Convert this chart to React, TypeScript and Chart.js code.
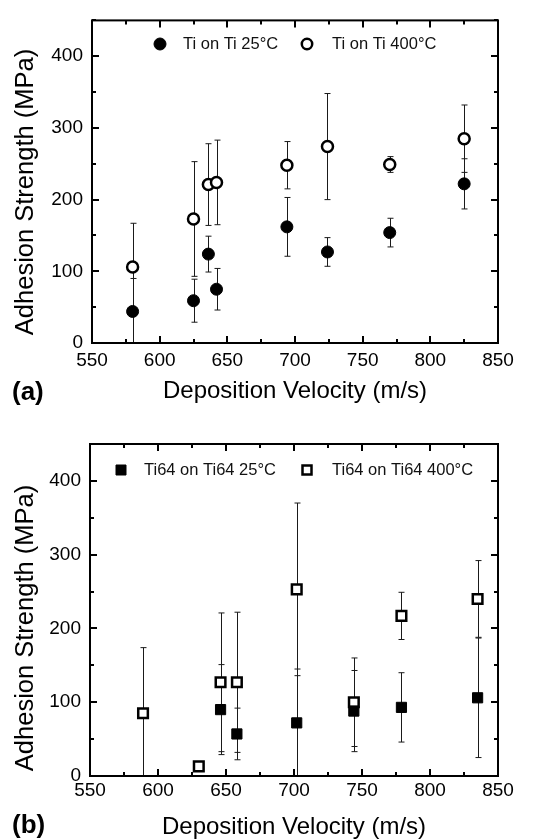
import React, { useEffect, useRef } from 'react';
import { Chart, registerables } from 'chart.js';

Chart.register(...registerables);

// ---------- data ----------
const xTickValues = [550, 600, 650, 700, 750, 800, 850];
const yTickValues = [0, 100, 200, 300, 400];

// Panel (a): Ti on Ti
const tiVelocity25 = [580, 625, 636, 642, 694, 724, 770, 825];
const ti25 = [44, 59, 124, 75, 162, 127, 154, 222];
const ti25Err = [46, 30, 25, 29, 41, 20, 20, 35];

const tiVelocity400 = [580, 625, 636, 642, 694, 724, 770, 825];
const ti400 = [106, 173, 221, 224, 248, 274, 249, 285];
const ti400Err = [61, 80, 57, 59, 33, 74, 11, 47];

// Panel (b): Ti64 on Ti64
const ti64Velocity25 = [646, 658, 702, 744, 779, 835];
const ti64_25 = [90, 57, 72, 88, 93, 106];
const ti64_25Err = [61, 35, 73, 55, 47, 81];

const ti64Velocity400 = [589, 630, 646, 658, 702, 744, 779, 835];
const ti64_400 = [85, 13, 127, 127, 253, 100, 217, 240];
const ti64_400Err = [89, 6, 94, 95, 117, 60, 32, 52];

const labelsA = ['Ti on Ti 25°C', 'Ti on Ti 400°C'];
const labelsB = ['Ti64 on Ti64 25°C', 'Ti64 on Ti64 400°C'];

const FONT = '"Liberation Sans", Arial, Helvetica, sans-serif';

// ---------- plugins ----------
const errorBarPlugin = {
  id: 'errorBars',
  beforeDatasetsDraw(chart: any, _args: any, opts: any) {
    const { ctx, scales } = chart;
    const xs = scales.x, ys = scales.y;
    ctx.save();
    ctx.strokeStyle = '#1a1a1a';
    ctx.lineWidth = 1;
    (opts.errors || []).forEach((errs: number[], di: number) => {
      const ds = chart.data.datasets[di];
      ds.data.forEach((p: any, i: number) => {
        const e = errs[i];
        if (!e) return;
        const px = Math.round(xs.getPixelForValue(p.x)) + 0.5;
        const yTop = ys.getPixelForValue(p.y + e);
        const yBot = Math.min(ys.getPixelForValue(Math.max(p.y - e, 0)), ys.bottom);
        ctx.beginPath();
        ctx.moveTo(px, yTop);
        ctx.lineTo(px, yBot);
        ctx.moveTo(px - 3, yTop);
        ctx.lineTo(px + 3, yTop);
        if (p.y - e > 0) {
          ctx.moveTo(px - 3, yBot);
          ctx.lineTo(px + 3, yBot);
        }
        ctx.stroke();
      });
    });
    ctx.restore();
  },
};

const frameTicksPlugin = {
  id: 'frameTicks',
  afterDraw(chart: any, _args: any, opts: any) {
    const { ctx, chartArea, scales } = chart;
    const { left, right, top, bottom } = chartArea;
    const xs = scales.x, ys = scales.y;
    ctx.save();
    ctx.strokeStyle = '#000';
    ctx.lineWidth = 2;
    ctx.beginPath();
    for (let v = xs.min; v <= xs.max; v += opts.xMinor) {
      const px = Math.round(xs.getPixelForValue(v));
      const len = (v - xs.min) % opts.xMajor === 0 ? 7 : 4;
      ctx.moveTo(px, bottom);
      ctx.lineTo(px, bottom - len);
      ctx.moveTo(px, top);
      ctx.lineTo(px, top + len);
    }
    for (let v = ys.min; v <= ys.max; v += opts.yMinor) {
      const py = Math.round(ys.getPixelForValue(v));
      const len = v % opts.yMajor === 0 ? 7 : 4;
      ctx.moveTo(left, py);
      ctx.lineTo(left + len, py);
      ctx.moveTo(right, py);
      ctx.lineTo(right - len, py);
    }
    ctx.stroke();
    ctx.lineWidth = 2;
    ctx.strokeRect(left, top, right - left, bottom - top);
    ctx.restore();
  },
};

function drawMarker(ctx: any, x: number, y: number, shape: string, filled: boolean, r: number) {
  ctx.save();
  ctx.fillStyle = filled ? '#000' : '#fff';
  ctx.strokeStyle = '#000';
  ctx.lineWidth = filled ? 1 : 2.5;
  ctx.beginPath();
  if (shape === 'circle') {
    ctx.arc(x, y, r, 0, Math.PI * 2);
  } else {
    ctx.rect(x - r, y - r, 2 * r, 2 * r);
  }
  ctx.fill();
  ctx.stroke();
  ctx.restore();
}

const annotPlugin = {
  id: 'annot',
  afterDraw(chart: any, _args: any, opts: any) {
    const { ctx, chartArea } = chart;
    ctx.save();
    // legend
    ctx.font = `${opts.legendSize}px ${FONT}`;
    ctx.fillStyle = '#111';
    ctx.textBaseline = 'middle';
    ctx.textAlign = 'left';
    opts.legend.forEach((it: any) => {
      drawMarker(ctx, it.mx, it.y, it.shape, it.filled, it.r);
      ctx.fillText(it.label, it.tx, it.y);
    });
    // y title
    ctx.font = `${opts.yTitleSize}px ${FONT}`;
    ctx.fillStyle = '#000';
    ctx.textAlign = 'center';
    ctx.save();
    ctx.translate(opts.yTitleX, opts.yTitleY);
    ctx.rotate(-Math.PI / 2);
    ctx.fillText('Adhesion Strength (MPa)', 0, 0);
    ctx.restore();
    // x title
    ctx.font = `${opts.xTitleSize}px ${FONT}`;
    ctx.fillText('Deposition Velocity (m/s)', (chartArea.left + chartArea.right) / 2, opts.xTitleY);
    // panel label
    ctx.font = `bold ${opts.panelSize}px ${FONT}`;
    ctx.textAlign = 'left';
    ctx.fillText(opts.panel, 12, opts.panelY);
    ctx.restore();
  },
};

function makeChart(canvas: HTMLCanvasElement, p: any) {
  const pts = (xs: number[], ys: number[]) => xs.map((x, i) => ({ x, y: ys[i] }));
  return new Chart(canvas, {
    type: 'scatter',
    data: {
      datasets: [
        {
          label: p.labels[0],
          data: pts(p.x25, p.y25),
          pointStyle: p.shape === 'circle' ? 'circle' : 'rect',
          pointRadius: p.shape === 'circle' ? 6 : 7.2,
          backgroundColor: '#000',
          borderColor: '#000',
          borderWidth: 1,
          showLine: false,
        },
        {
          label: p.labels[1],
          data: pts(p.x400, p.y400),
          pointStyle: p.shape === 'circle' ? 'circle' : 'rect',
          pointRadius: p.shape === 'circle' ? 5.5 : 6.8,
          backgroundColor: '#fff',
          borderColor: '#000',
          borderWidth: 2.5,
          showLine: false,
        },
      ],
    },
    options: {
      responsive: false,
      animation: false,
      events: [],
      layout: { padding: { left: 0, top: p.top, right: 554 - p.right, bottom: 0 } },
      scales: {
        x: {
          type: 'linear',
          min: 550,
          max: 850,
          afterBuildTicks: (s: any) => { s.ticks = xTickValues.map((v) => ({ value: v })); },
          afterFit: (s: any) => { s.height = 420 - p.bottom; },
          grid: { display: false, drawTicks: false, tickLength: 0 },
          border: { display: false },
          ticks: { color: '#000', padding: p.xPad, font: { family: FONT, size: 19 }, maxRotation: 0, autoSkip: false },
        },
        y: {
          type: 'linear',
          min: 0,
          max: 450,
          afterBuildTicks: (s: any) => { s.ticks = yTickValues.map((v) => ({ value: v })); },
          afterFit: (s: any) => { s.width = p.left; },
          grid: { display: false, drawTicks: false, tickLength: 0 },
          border: { display: false },
          ticks: { color: '#000', padding: 9, font: { family: FONT, size: 19 } },
        },
      },
      plugins: {
        legend: { display: false },
        tooltip: { enabled: false },
        errorBars: { errors: [p.e25, p.e400] },
        frameTicks: { xMinor: 25, xMajor: 50, yMinor: 50, yMajor: 100 },
        annot: p.annot,
      } as any,
    },
    plugins: [errorBarPlugin, frameTicksPlugin, annotPlugin],
  } as any);
}

function Panel({ cfg, top }: { cfg: any; top: number }) {
  const ref = useRef<HTMLCanvasElement>(null);
  useEffect(() => {
    const c = makeChart(ref.current!, cfg);
    return () => c.destroy();
  }, []);
  return (
    <canvas
      ref={ref}
      width={554}
      height={420}
      style={{ position: 'absolute', left: 0, top, width: 554, height: 420 }}
    />
  );
}

const cfgA = {
  labels: labelsA,
  shape: 'circle',
  x25: tiVelocity25, y25: ti25, e25: ti25Err,
  x400: tiVelocity400, y400: ti400, e400: ti400Err,
  left: 92, right: 498, top: 14, bottom: 343, xPad: 6,
  annot: {
    legendSize: 16.5,
    xTitleSize: 24,
    yTitleSize: 25.5,
    panelSize: 26,
    legend: [
      { mx: 160, tx: 183, y: 44, shape: 'circle', filled: true, r: 6, label: labelsA[0] },
      { mx: 307, tx: 332, y: 44, shape: 'circle', filled: false, r: 5.2, label: labelsA[1] },
    ],
    yTitleX: 26, yTitleY: 192, xTitleY: 391, panel: '(a)', panelY: 393,
  },
};

const cfgB = {
  labels: labelsB,
  shape: 'rect',
  x25: ti64Velocity25, y25: ti64_25, e25: ti64_25Err,
  x400: ti64Velocity400, y400: ti64_400, e400: ti64_400Err,
  left: 90, right: 498, top: 24, bottom: 356, xPad: 3,
  annot: {
    legendSize: 16.5,
    xTitleSize: 24,
    yTitleSize: 25.5,
    panelSize: 26,
    legend: [
      { mx: 121, tx: 144, y: 50, shape: 'rect', filled: true, r: 5, label: labelsB[0] },
      { mx: 307, tx: 332, y: 50, shape: 'rect', filled: false, r: 4.5, label: labelsB[1] },
    ],
    yTitleX: 26, yTitleY: 208, xTitleY: 407, panel: '(b)', panelY: 406,
  },
};

export default function App() {
  return (
    <div style={{ position: 'absolute', left: 0, top: 0, width: 554, height: 840, background: '#fff' }}>
      <Panel cfg={cfgA} top={0} />
      <Panel cfg={cfgB} top={420} />
    </div>
  );
}
